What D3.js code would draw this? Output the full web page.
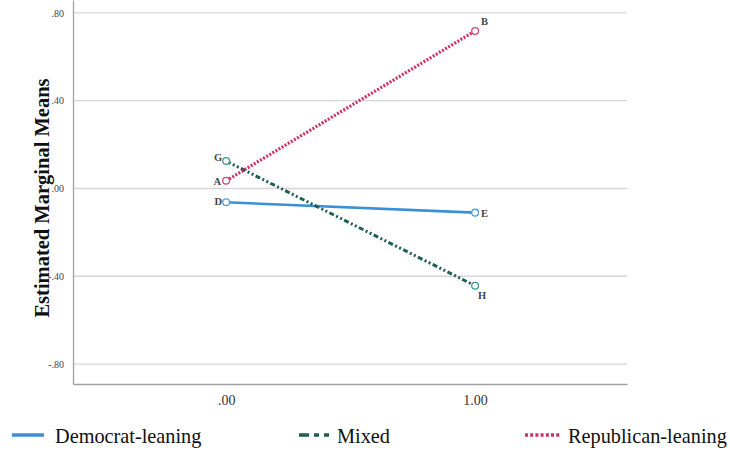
<!DOCTYPE html>
<html>
<head>
<meta charset="utf-8">
<script src="https://cdn.jsdelivr.net/npm/d3@7"></script>
<style>
  body { margin: 0; background: #fff; }
  text { font-family: "Liberation Serif", "DejaVu Serif", serif; }
</style>
</head>
<body>
<div id="chart"></div>
<script>
// data
var xValues = [0, 1];
var xTickLabels = [".00", "1.00"];
var yTicks = [-0.8, -0.4, 0, 0.4, 0.8];
var yTickLabels = ["-.80", "-.40", ".00", ".40", ".80"];

var seriesNames = ["Democrat-leaning", "Mixed", "Republican-leaning"];
var democratValues = [-0.063, -0.110];
var mixedValues = [0.125, -0.443];
var republicanValues = [0.035, 0.718];
var democratLabels = ["D", "E"];
var mixedLabels = ["G", "H"];
var republicanLabels = ["A", "B"];

var width = 730, height = 450;
var margin = { top: 0, left: 73, right: 103, bottom: 66 };
var plotW = width - margin.left - margin.right,
    plotH = height - margin.top - margin.bottom;

var svg = d3.select("#chart").append("svg")
    .attr("width", width)
    .attr("height", height);

var x = d3.scaleLinear().domain([-0.615, 1.61]).range([0, plotW]);
var y = d3.scaleLinear().domain([-0.891, 0.859]).range([plotH, 0]);

var g = svg.append("g")
    .attr("transform", "translate(" + margin.left + "," + margin.top + ")");

// gridlines
g.selectAll(".grid").data(yTicks).enter().append("line")
    .attr("x1", 0).attr("x2", plotW)
    .attr("y1", function (d) { return y(d); })
    .attr("y2", function (d) { return y(d); })
    .attr("stroke", "#d6d6d6")
    .attr("stroke-width", 1.3);

// y axis
var yAxis = g.append("g")
    .call(d3.axisLeft(y).tickValues(yTicks).tickSize(0)
        .tickFormat(function (d, i) { return yTickLabels[i]; }));
yAxis.select(".domain").attr("stroke", "#a0a0a0").attr("stroke-width", 1.3);
yAxis.selectAll("text").attr("font-size", 10).attr("fill", "#444")
    .attr("font-family", "Liberation Serif, serif").attr("dx", "-6");

// x axis
var xAxis = g.append("g")
    .attr("transform", "translate(0," + plotH + ")")
    .call(d3.axisBottom(x).tickValues(xValues).tickSize(0)
        .tickFormat(function (d, i) { return xTickLabels[i]; }));
xAxis.select(".domain").attr("stroke", "#a0a0a0").attr("stroke-width", 1.3);
xAxis.selectAll("text").attr("font-size", 14).attr("fill", "#333")
    .attr("font-family", "Liberation Serif, serif").attr("dy", "1.3em");

// y axis title
svg.append("text")
    .attr("transform", "translate(49,198) rotate(-90)")
    .attr("text-anchor", "middle")
    .attr("font-size", 20.5)
    .attr("font-weight", "bold")
    .attr("fill", "#111")
    .text("Estimated Marginal Means");

var series = [
    { name: seriesNames[0], values: democratValues, labels: democratLabels, color: "#3a8fd9", marker: "#4aa3e0", dash: null, width: 2.6 },
    { name: seriesNames[1], values: mixedValues, labels: mixedLabels, color: "#1d5f52", marker: "#3a9a8f", dash: "5,2.5,2,2.5,2,2.5", width: 3 },
    { name: seriesNames[2], values: republicanValues, labels: republicanLabels, color: "#d32f66", marker: "#c84a78", dash: "2,1.6", width: 3.2 }
];

var line = d3.line()
    .x(function (d, i) { return x(xValues[i]); })
    .y(function (d) { return y(d); });

series.forEach(function (s) {
    g.append("path")
        .datum(s.values)
        .attr("fill", "none")
        .attr("stroke", s.color)
        .attr("stroke-width", s.width)
        .attr("stroke-dasharray", s.dash)
        .attr("d", line);
});

// markers and point labels
var labelOffsets = {
    "A": [-5, 4, "end"], "G": [-4, 0, "end"], "D": [-4, 3, "end"],
    "B": [6, -6, "start"], "E": [6, 4, "start"], "H": [3, 13, "start"]
};
series.forEach(function (s) {
    g.selectAll(null).data(s.values).enter().append("circle")
        .attr("cx", function (d, i) { return x(xValues[i]); })
        .attr("cy", function (d) { return y(d); })
        .attr("r", 3.4)
        .attr("fill", "#fff")
        .attr("stroke", s.marker)
        .attr("stroke-width", 1.3);
    g.selectAll(null).data(s.values).enter().append("text")
        .attr("x", function (d, i) { return x(xValues[i]) + labelOffsets[s.labels[i]][0]; })
        .attr("y", function (d, i) { return y(d) + labelOffsets[s.labels[i]][1]; })
        .attr("text-anchor", function (d, i) { return labelOffsets[s.labels[i]][2]; })
        .attr("font-size", 10.5)
        .attr("font-weight", "bold")
        .attr("fill", "#444")
        .text(function (d, i) { return s.labels[i]; });
});

// legend
var legendX = [12, 299, 525];
var legendW = [32, 30, 35];
var legendTextX = [55, 337, 568];
var legend = svg.append("g").attr("transform", "translate(0,435)");
series.forEach(function (s, i) {
    legend.append("line")
        .attr("x1", legendX[i]).attr("x2", legendX[i] + legendW[i])
        .attr("y1", 0).attr("y2", 0)
        .attr("stroke", s.color)
        .attr("stroke-width", 3.5)
        .attr("stroke-dasharray", i == 1 ? "10,5,5,5,5" : (i == 2 ? "3,2.2" : null));
    legend.append("text")
        .attr("x", legendTextX[i])
        .attr("y", 8)
        .attr("font-size", 20.3)
        .attr("fill", "#111")
        .text(s.name);
});
</script>
</body>
</html>
